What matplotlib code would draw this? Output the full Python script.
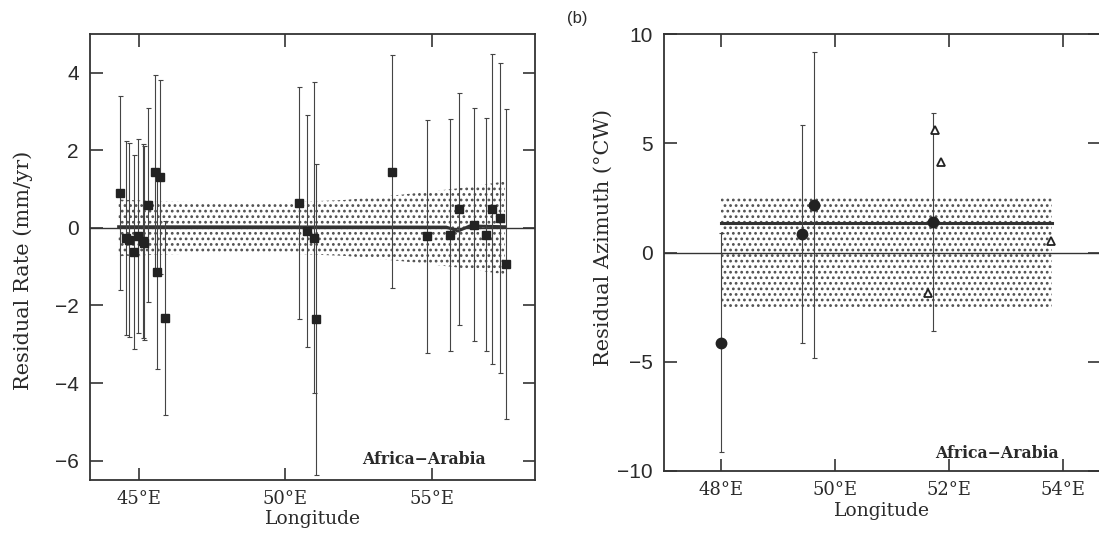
import matplotlib
matplotlib.use("Agg")
import matplotlib.pyplot as plt
import numpy as np

# ---------------- data: panel (a) residual rate ----------------
rate_lon = [44.36, 44.55, 44.65, 44.84, 44.97, 45.12, 45.18, 45.30, 45.55, 45.60,
            45.72, 45.89, 50.46, 50.75, 50.96, 51.04, 53.65, 54.83, 55.64, 55.94,
            56.44, 56.84, 57.05, 57.34, 57.53]
rate_val = [0.90, -0.27, -0.31, -0.63, -0.20, -0.33, -0.40, 0.58, 1.43, -1.13,
            1.32, -2.32, 0.64, -0.08, -0.25, -2.36, 1.45, -0.22, -0.18, 0.49,
            0.08, -0.17, 0.49, 0.25, -0.94]
rate_err = [2.5, 2.5, 2.5, 2.5, 2.5, 2.5, 2.5, 2.5, 2.5, 2.5,
            2.5, 2.5, 3.0, 3.0, 4.0, 4.0, 3.0, 3.0, 3.0, 3.0,
            3.0, 3.0, 4.0, 4.0, 4.0]
rate_fit_lon = [44.3, 55.5, 55.9, 56.3, 57.5]
rate_fit_val = [0.03, 0.02, -0.08, 0.05, 0.03]
rate_band_lon = [44.3, 46.0, 48.0, 50.0, 52.0, 54.0, 56.0, 57.5]
rate_band_hw = [0.73, 0.68, 0.65, 0.66, 0.72, 0.86, 1.03, 1.2]
rate_yticks = [-6, -4, -2, 0, 2, 4]
rate_xticks = [45, 50, 55]
rate_xlabels = ["45°E", "50°E", "55°E"]

# ---------------- data: panel (b) residual azimuth ----------------
az_lon = [48.0, 49.41, 49.62, 51.72]
az_val = [-4.13, 0.85, 2.17, 1.39]
az_err = [5.0, 5.0, 7.0, 5.0]
tri_lon = [51.74, 51.85, 51.63, 53.79]
tri_val = [5.6, 4.13, -1.84, 0.52]
az_fit_lon = [48.0, 53.8]
az_fit_val = [1.36, 1.36]
az_band_lo = [-2.6, -2.6]
az_band_hi = [2.58, 2.58]
az_yticks = [-10, -5, 0, 5, 10]
az_xticks = [48, 50, 52, 54]
az_xlabels = ["48°E", "50°E", "52°E", "54°E"]

SERIF = "DejaVu Serif"
SANS = "Liberation Sans"
INK = "#2a2a2a"
plt.rcParams["hatch.linewidth"] = 1.2
plt.rcParams["hatch.color"] = "#505050"

fig = plt.figure(figsize=(10.99, 5.35), dpi=100)
axa = fig.add_axes([90/1099, 1-480/535, (535-90)/1099, (480-34)/535])
axb = fig.add_axes([664/1099, 1-471/535, (1100-664)/1099, (471-34)/535])


def style(ax):
    for s in ax.spines.values():
        s.set_color("#333333")
        s.set_linewidth(1.3)
    ax.tick_params(direction="in", length=9, width=1.2, color="#333333",
                   top=True, right=True)
    ax.tick_params(axis="y", pad=8)
    ax.tick_params(axis="x", pad=7)
    for lab in ax.get_yticklabels():
        lab.set_fontfamily(SANS)
        lab.set_fontsize(15)
        lab.set_color(INK)
    for lab in ax.get_xticklabels():
        lab.set_fontfamily(SERIF)
        lab.set_fontsize(13)
        lab.set_color(INK)


def minus_labels(vals):
    return ["\u2212" + str(-v) if v < 0 else str(v) for v in vals]


# ---------- panel a ----------
bl = np.array(rate_band_lon)
bh = np.array(rate_band_hw)
axa.fill_between(bl, -bh, bh, facecolor="none", edgecolor="#505050",
                 hatch="...", linewidth=0, zorder=1)
axa.axhline(0, color="#333333", lw=1.0, zorder=2)
axa.plot(rate_fit_lon, rate_fit_val, color="#333333", lw=2.2, zorder=3)
axa.errorbar(rate_lon, rate_val, yerr=rate_err, fmt="none", ecolor="#444444",
             elinewidth=0.8, capsize=1.8, capthick=0.8, zorder=4)
axa.plot(rate_lon, rate_val, "s", ms=6.3, color="#222222", zorder=5)
axa.set_xlim(43.32, 58.53)
axa.set_ylim(-6.5, 5.0)
axa.set_yticks(rate_yticks)
axa.set_yticklabels(minus_labels(rate_yticks))
axa.set_xticks(rate_xticks)
axa.set_xticklabels(rate_xlabels)
axa.set_xlabel("Longitude", fontfamily=SERIF, fontsize=13.5, color=INK, labelpad=2)
axa.set_ylabel("Residual Rate (mm/yr)", fontfamily=SERIF, fontsize=15,
               color=INK)
axa.yaxis.set_label_coords(-0.128, 0.47)
axa.text(0.89, 0.045, "Africa\u2212Arabia", transform=axa.transAxes,
         fontfamily=SERIF, fontweight="bold", fontsize=11.3, color=INK,
         ha="right", va="center")
style(axa)

# ---------- panel b ----------
axb.fill_between(az_fit_lon, az_band_lo, az_band_hi, facecolor="none",
                 edgecolor="#505050", hatch="...", linewidth=0, zorder=1)
axb.axhline(0, color="#333333", lw=1.0, zorder=2)
axb.plot(az_fit_lon, az_fit_val, color="#333333", lw=2.2, zorder=3)
axb.errorbar(az_lon, az_val, yerr=az_err, fmt="none", ecolor="#444444",
             elinewidth=0.8, capsize=1.8, capthick=0.8, zorder=4)
axb.plot(az_lon, az_val, "o", ms=7.5, color="#222222", zorder=5)
axb.plot(tri_lon, tri_val, "^", ms=6, mfc="white", mec="#222222", mew=1.3,
         zorder=5)
axb.set_xlim(47.0, 54.64)
axb.set_ylim(-10, 10)
axb.set_yticks(az_yticks)
axb.set_yticklabels(minus_labels(az_yticks))
axb.set_xticks(az_xticks)
axb.set_xticklabels(az_xlabels)
axb.set_xlabel("Longitude", fontfamily=SERIF, fontsize=13.5, color=INK, labelpad=2)
axb.set_ylabel("Residual Azimuth (°CW)", fontfamily=SERIF, fontsize=15,
               color=INK)
axb.yaxis.set_label_coords(-0.117, 0.535)
axb.text(0.905, 0.04, "Africa\u2212Arabia", transform=axb.transAxes,
         fontfamily=SERIF, fontweight="bold", fontsize=11.3, color=INK,
         ha="right", va="center")
style(axb)

fig.text(567/1099, 1-19/535, "(b)", fontfamily=SANS, fontsize=12, color=INK,
         ha="left", va="center")

fig.savefig("out.png", dpi=100)
